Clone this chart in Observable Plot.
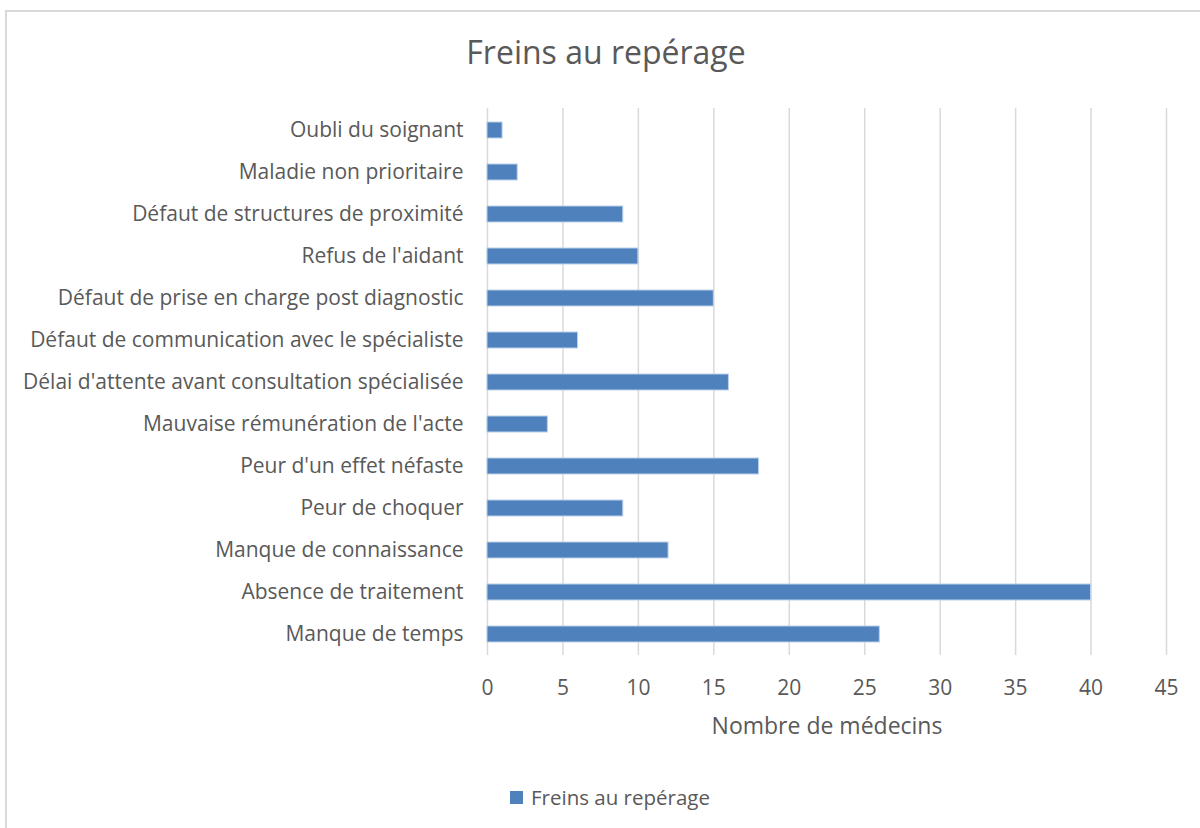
<!DOCTYPE html>
<html>
<head>
<meta charset="utf-8">
<script src="https://cdn.jsdelivr.net/npm/d3@7"></script>
<script src="https://cdn.jsdelivr.net/npm/@observablehq/plot@0.6"></script>
<style>
  html, body { margin: 0; padding: 0; background: #fff; }
  #wrap { position: relative; width: 1200px; height: 828px; overflow: hidden; font-family: "Open Sans", sans-serif; color: #595959; }
  #frame { position: absolute; left: 5px; top: 10px; width: 1300px; height: 900px; border-top: 2px solid #d9d9d9; border-left: 2px solid #d9d9d9; box-sizing: border-box; }
  #title { position: absolute; left: 6px; top: 30px; width: 1200px; text-align: center; font-size: 32px; line-height: 44px; }
  #chart { position: absolute; left: 0; top: 0; }
  #legend { position: absolute; left: 510px; top: 784px; font-size: 20.5px; line-height: 26px; display: flex; align-items: center; }
  #legend .sw { width: 13px; height: 13px; background: #4f81bd; margin-right: 8px; }
</style>
</head>
<body>
<div id="wrap">
  <div id="frame"></div>
  <div id="chart"></div>
  <div id="title">Freins au repérage</div>
  <div id="legend"><span class="sw"></span><span>Freins au repérage</span></div>
</div>
<script>
const categories = [
  "Oubli du soignant",
  "Maladie non prioritaire",
  "Défaut de structures de proximité",
  "Refus de l'aidant",
  "Défaut de prise en charge post diagnostic",
  "Défaut de communication avec le spécialiste",
  "Délai d'attente avant consultation spécialisée",
  "Mauvaise rémunération de l'acte",
  "Peur d'un effet néfaste",
  "Peur de choquer",
  "Manque de connaissance",
  "Absence de traitement",
  "Manque de temps"
];
const values = [1, 2, 9, 10, 15, 6, 16, 4, 18, 9, 12, 40, 26];
const xTicks = [0, 5, 10, 15, 20, 25, 30, 35, 40, 45];
const xLabel = "Nombre de médecins";

const data = categories.map((c, i) => ({cat: c, value: values[i]}));

const chart = Plot.plot({
  width: 1200,
  height: 828,
  marginLeft: 487,
  marginRight: 34,
  marginTop: 108,
  marginBottom: 173,
  style: {fontFamily: "'Open Sans', sans-serif", fontSize: "21px", color: "#595959", background: "transparent", overflow: "visible"},
  x: {domain: [0, 45], label: null},
  y: {domain: categories, paddingInner: 0.62, paddingOuter: 0.32, label: null},
  marks: [
    Plot.ruleX(xTicks, {stroke: "#d9d9d9", strokeWidth: 1.5}),
    Plot.barX(data, {x: "value", y: "cat", fill: "#4f81bd", stroke: "#bcd0ea", strokeWidth: 1}),
    Plot.axisX({ticks: xTicks, tickSize: 0, tickPadding: 25, fontSize: 21, fill: "#595959", label: null}),
    Plot.axisY({tickSize: 0, tickPadding: 24, fontSize: 21, fill: "#595959", label: null}),
    Plot.text([xLabel], {frameAnchor: "bottom", dy: 71, lineAnchor: "middle", fontSize: 23, fill: "#595959"})
  ]
});
document.getElementById("chart").appendChild(chart);
</script>
</body>
</html>
